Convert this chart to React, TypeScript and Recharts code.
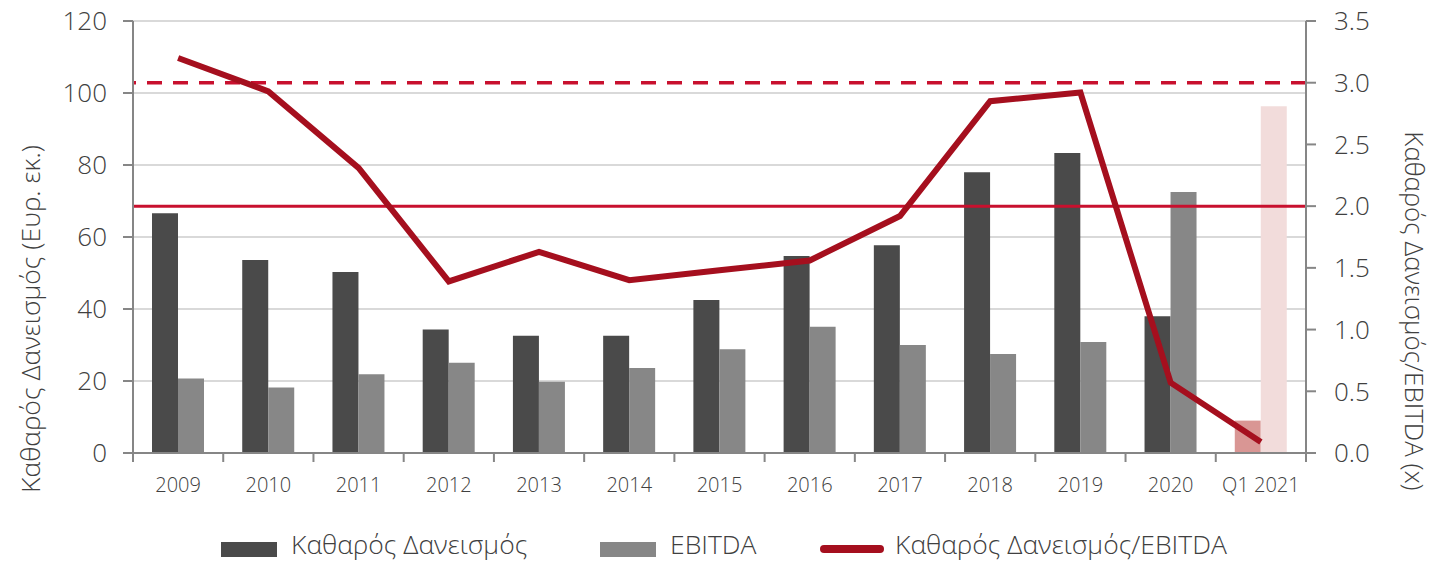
import { ComposedChart, Bar, Line, Cell, XAxis, YAxis, CartesianGrid, ReferenceLine, Legend } from 'recharts';

const categories = ['2009', '2010', '2011', '2012', '2013', '2014', '2015', '2016', '2017', '2018', '2019', '2020', 'Q1 2021'];
const netDebt = [66.6, 53.6, 50.3, 34.3, 32.6, 32.6, 42.5, 54.7, 57.7, 78.0, 83.3, 38.0, 9.0];
const ebitda = [20.7, 18.2, 21.9, 25.1, 19.8, 23.6, 28.8, 35.1, 30.0, 27.5, 30.8, 72.5, 96.3];
const ratio = [3.2, 2.93, 2.31, 1.39, 1.63, 1.4, 1.48, 1.56, 1.92, 2.85, 2.92, 0.57, 0.09];

const leftTicks = [0, 20, 40, 60, 80, 100, 120];
const rightTicks = [0, 0.5, 1, 1.5, 2, 2.5, 3, 3.5];
const ratioLimit = 3;
const ratioTarget = 2;

const data = categories.map((cat, i) => ({
    cat,
    netDebt: netDebt[i],
    ebitda: ebitda[i],
    ratio: ratio[i],
}));

const FONT = '"Open Sans", "Noto Sans", sans-serif';
const TEXT = '#404040';
const AXIS = '#868686';
const DARK = '#4A4A4A';
const LIGHT = '#878787';
const LINE_RED = '#A50F1E';
const REF_RED = '#C8102E';

const W = 1432;
const H = 563;
const PLOT_LEFT = 133;
const PLOT_RIGHT = 1306;
const BAND = (PLOT_RIGHT - PLOT_LEFT) / categories.length;

function XTick(props: any) {
    const { x, y, payload, index } = props;
    const top = y - 8;
    return (
        <g>
            <line x1={x - BAND / 2} x2={x - BAND / 2} y1={top - 1} y2={top + 9} stroke={AXIS} strokeWidth={2} />
            {index === categories.length - 1 && (
                <line x1={x + BAND / 2} x2={x + BAND / 2} y1={top - 1} y2={top + 9} stroke={AXIS} strokeWidth={2} />
            )}
            <text x={x} y={top + 39} textAnchor="middle" fontSize={20} fontWeight={300} fill={TEXT} fontFamily={FONT}>
                {payload.value}
            </text>
        </g>
    );
}

function LegendContent() {
    const txt = { position: 'absolute' as const, top: 6, fontSize: 26.5, fontWeight: 300, color: TEXT, fontFamily: FONT, lineHeight: '30px', whiteSpace: 'nowrap' as const };
    return (
        <div style={{ position: 'relative', width: W, height: 40 }}>
            <div style={{ position: 'absolute', left: 221, top: 19, width: 56, height: 15, background: DARK }} />
            <div style={{ ...txt, left: 291 }}>Καθαρός Δανεισμός</div>
            <div style={{ position: 'absolute', left: 600, top: 19, width: 56, height: 15, background: LIGHT }} />
            <div style={{ ...txt, left: 670 }}>EBITDA</div>
            <div style={{ position: 'absolute', left: 820, top: 22, width: 64, height: 8, borderRadius: 4, background: LINE_RED }} />
            <div style={{ ...txt, left: 895 }}>Καθαρός Δανεισμός/EBITDA</div>
        </div>
    );
}

export default function App() {
    return (
        <div style={{ position: 'absolute', left: 0, top: 0, width: W, height: H, background: '#fff' }}>
            <ComposedChart width={W} height={H} data={data} margin={{ top: 21, right: 0, bottom: 0, left: 0 }} barGap={0}>
                <CartesianGrid vertical={false} yAxisId="left" stroke="#D9D9D9" strokeWidth={2} />
                <XAxis
                    dataKey="cat"
                    height={70}
                    interval={0}
                    tickLine={false}
                    axisLine={{ stroke: AXIS, strokeWidth: 2 }}
                    tick={<XTick />}
                />
                <YAxis
                    yAxisId="left"
                    width={133}
                    domain={[0, 120]}
                    ticks={leftTicks}
                    interval={0}
                    tickSize={10}
                    tickMargin={16}
                    axisLine={{ stroke: AXIS, strokeWidth: 2 }}
                    tickLine={{ stroke: AXIS, strokeWidth: 2 }}
                    tick={{ fontSize: 26, fontWeight: 300, fill: TEXT, fontFamily: FONT }}
                    label={{
                        content: () => (
                            <text x={30} y={319} transform="rotate(-90, 30, 319)" textAnchor="middle" dominantBaseline="central" fontSize={26.5} fontWeight={300} fill={TEXT} fontFamily={FONT}>
                                Καθαρός Δανεισμός (Ευρ. εκ.)
                            </text>
                        ),
                    }}
                />
                <YAxis
                    yAxisId="right"
                    orientation="right"
                    width={W - PLOT_RIGHT}
                    domain={[0, 3.5]}
                    ticks={rightTicks}
                    interval={0}
                    tickSize={10}
                    tickMargin={18}
                    tickFormatter={(v: number) => v.toFixed(1)}
                    axisLine={{ stroke: AXIS, strokeWidth: 2 }}
                    tickLine={{ stroke: AXIS, strokeWidth: 2 }}
                    tick={{ fontSize: 26, fontWeight: 300, fill: TEXT, fontFamily: FONT }}
                    label={{
                        content: () => (
                            <text x={1415} y={311} transform="rotate(90, 1415, 311)" textAnchor="middle" dominantBaseline="central" fontSize={26} fontWeight={300} fill={TEXT} fontFamily={FONT}>
                                Καθαρός Δανεισμός/EBITDA (x)
                            </text>
                        ),
                    }}
                />
                <Legend verticalAlign="bottom" height={40} content={<LegendContent />} wrapperStyle={{ left: 0, width: W }} />
                <Bar yAxisId="left" dataKey="netDebt" name="Καθαρός Δανεισμός" fill={DARK} barSize={26} isAnimationActive={false}>
                    {data.map((d, i) => (
                        <Cell key={d.cat} fill={i === data.length - 1 ? '#D99694' : DARK} />
                    ))}
                </Bar>
                <Bar yAxisId="left" dataKey="ebitda" name="EBITDA" fill={LIGHT} barSize={26} isAnimationActive={false}>
                    {data.map((d, i) => (
                        <Cell key={d.cat} fill={i === data.length - 1 ? '#F2DCDB' : LIGHT} />
                    ))}
                </Bar>
                <ReferenceLine yAxisId="right" y={ratioLimit} stroke={REF_RED} strokeWidth={3.5} strokeDasharray="15 11" />
                <ReferenceLine yAxisId="right" y={ratioTarget} stroke={REF_RED} strokeWidth={3} />
                <Line
                    yAxisId="right"
                    type="linear"
                    dataKey="ratio"
                    name="Καθαρός Δανεισμός/EBITDA"
                    stroke={LINE_RED}
                    strokeWidth={6}
                    dot={false}
                    activeDot={false}
                    isAnimationActive={false}
                />
            </ComposedChart>
        </div>
    );
}
